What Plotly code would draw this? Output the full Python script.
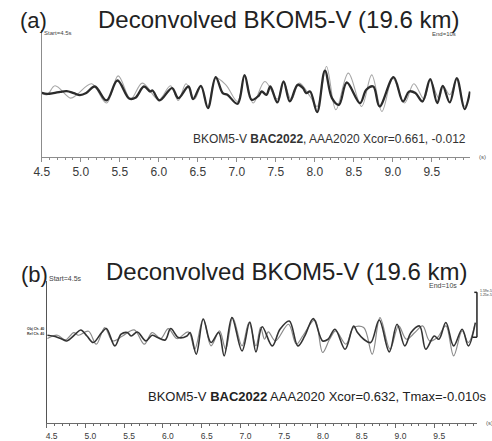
import plotly.graph_objects as go

W, H = 492, 441

# ---------------- data (panel a) ----------------
a_dark_t = [4.50, 4.57, 4.65, 4.74, 4.82, 4.91, 4.99, 5.07, 5.18, 5.33, 5.47, 5.62, 5.70, 5.81, 5.89, 5.92,
            6.01, 6.17, 6.25, 6.38, 6.44, 6.54, 6.63, 6.73, 6.82, 6.88, 7.01, 7.10, 7.19, 7.28, 7.32, 7.38,
            7.43, 7.52, 7.60, 7.68, 7.78, 7.85, 7.89, 7.94, 8.03, 8.13, 8.22, 8.31, 8.41, 8.58, 8.66, 8.75,
            8.83, 9.01, 9.13, 9.21, 9.29, 9.38, 9.48, 9.57, 9.64, 9.73, 9.82, 9.92, 9.99]
a_dark_v = [0, -1, -0.3, 1, 1.7, -0.3, -2.3, -0.3, 6.3, -7.7, 12.3, -5.7, -5, 6.3, 1.3, 2.3,
            -7.7, 4.7, -5.3, 6.3, -6.3, 7, -15.3, 15.7, -0.3, -2, -11, 17.7, -7, -3, 1.3, -2,
            6.3, -9.7, 11.3, -8.7, 8, 4.7, -0.3, 1.3, -19.3, 22.3, -5.3, -12, 10.3, -10.3, 3, 6.3,
            -13.7, 15.7, -8.7, 1.3, -0.3, -8.7, 13.7, -10.3, 7, -9.7, 14.7, -16.3, 1.3]

a_gray_t = [4.50, 4.57, 4.67, 4.87, 4.95, 5.14, 5.33, 5.48, 5.64, 5.79, 6.00, 6.15, 6.25, 6.35, 6.46, 6.54,
            6.63, 6.73, 6.86, 7.01, 7.10, 7.21, 7.36, 7.52, 7.60, 7.70, 7.80, 7.94, 8.03, 8.15, 8.27, 8.43,
            8.60, 8.73, 8.86, 9.00, 9.15, 9.27, 9.40, 9.48, 9.59, 9.65, 9.73, 9.82, 9.92, 9.99]
a_gray_v = [-0.3, -2, 7, -5.3, -2, 9, -10.3, 17, -6.3, 9.7, -7, 7, -7.7, 9, -6.3, 6.3,
            -13.7, 14.7, 8, -8.7, 16.3, -10.3, 11.3, -6.3, 10.3, -7, 9.7, -3.7, -13.7, 26.3, -17, 19.7,
            -13.7, 18, -18.7, 14.7, -10.3, 9, -6.3, 12.3, -5.3, 6.3, -2, 13, -13.7, -0.3]

# ---------------- data (panel b) ----------------
b_dark_t = [4.51, 4.61, 4.70, 4.76, 4.87, 4.94, 5.02, 5.10, 5.21, 5.27, 5.38, 5.46, 5.54, 5.59, 5.67, 5.78,
            5.86, 5.93, 6.03, 6.10, 6.20, 6.31, 6.35, 6.43, 6.52, 6.62, 6.72, 6.79, 6.89, 7.02, 7.12, 7.20,
            7.28, 7.41, 7.51, 7.63, 7.74, 7.83, 7.94, 8.06, 8.13, 8.22, 8.35, 8.46, 8.51, 8.59, 8.68, 8.79,
            8.92, 9.02, 9.12, 9.20, 9.31, 9.39, 9.50, 9.56, 9.65, 9.75, 9.86, 9.94, 10.03]
b_dark_v = [-1, -2.3, -5, -6.7, 0, 4.3, -1.7, -8.3, 1.7, 5.7, -11.7, 0, 1.7, -1.7, 2.3, -6.7,
            -1, -3.3, -5.7, 5.7, -3.3, -1.7, 1.7, -20, 15, -8.3, 1.7, -21.7, 16.7, -16.7, 12.3, -17.7,
            7.5, -11.7, 5, 13.3, -11.7, -1.7, 15.7, -6.7, -5, 5, -15, 8.3, 1.7, -5, -8.3, 14.3,
            -17.7, 10, -11.7, 1.7, 8.3, -15, -1.7, -5, 11.7, -11.7, 5, -11.7, 11.7]

b_gray_t = [4.51, 4.64, 4.74, 4.85, 4.91, 5.04, 5.14, 5.25, 5.35, 5.48, 5.63, 5.76, 5.86, 5.97, 6.07, 6.18,
            6.33, 6.41, 6.52, 6.62, 6.73, 6.81, 6.90, 7.02, 7.11, 7.20, 7.26, 7.31, 7.36, 7.45, 7.62, 7.72,
            7.81, 7.96, 8.06, 8.15, 8.23, 8.36, 8.46, 8.59, 8.70, 8.80, 8.93, 9.04, 9.14, 9.25, 9.35, 9.44,
            9.54, 9.65, 9.75, 9.86, 9.94, 10.02]
b_gray_v = [-4.3, -1, -5.7, 1.7, -1, 3, -10, 6.7, -6.7, -1.7, 4.3, -10, 1.7, -4.3, 5.7, -4.3,
            2.3, -15, 15.7, -11.7, 3.3, -15, 16.7, -11.7, 11.7, -11.7, 7, -5, 2.3, -6.7, 10, -10,
            -1, 14.3, -18.3, -5, 3.3, -10, 6.7, 6.7, -20, 16.7, -15, 8.3, -5, 1.7, 8.3, -6.7,
            -3.3, 8.3, -21.7, 3.3, -8.3, 8.3]

tick_vals = [4.5, 5.0, 5.5, 6.0, 6.5, 7.0, 7.5, 8.0, 8.5, 9.0, 9.5]
tick_text = ["4.5", "5.0", "5.5", "6.0", "6.5", "7.0", "7.5", "8.0", "8.5", "9.0", "9.5"]

title_text = "Deconvolved BKOM5-V (19.6 km)"
note_a = "BKOM5-V <b>BAC2022</b>, AAA2020 Xcor=0.661, -0.012"
note_b = "BKOM5-V <b>BAC2022</b> AAA2020 Xcor=0.632, Tmax=-0.010s"

FONT = "Liberation Sans, Arial, sans-serif"


def fx(x):
    return x / W


def fy(y):
    return 1 - y / H


fig = go.Figure()

# panel a traces
fig.add_trace(go.Scatter(x=a_gray_t, y=a_gray_v, mode="lines", xaxis="x", yaxis="y",
                         line=dict(color="#a6a6a6", width=1.1, shape="spline", smoothing=1.0),
                         hoverinfo="skip", showlegend=False))
fig.add_trace(go.Scatter(x=a_dark_t, y=a_dark_v, mode="lines", xaxis="x", yaxis="y",
                         line=dict(color="#2b2b2b", width=2.3, shape="spline", smoothing=1.0),
                         hoverinfo="skip", showlegend=False))
# panel b traces
fig.add_trace(go.Scatter(x=b_gray_t, y=b_gray_v, mode="lines", xaxis="x2", yaxis="y2",
                         line=dict(color="#8a8a8a", width=1.2, shape="spline", smoothing=1.0),
                         hoverinfo="skip", showlegend=False))
fig.add_trace(go.Scatter(x=b_dark_t, y=b_dark_v, mode="lines", xaxis="x2", yaxis="y2",
                         line=dict(color="#333333", width=1.6, shape="spline", smoothing=1.0),
                         hoverinfo="skip", showlegend=False))

# axes geometry (pixels)
A_X0, A_X1, A_Y0, A_Y1 = 34.3, 470, 30, 157
B_X0, B_X1, B_Y0, B_Y1 = 39.3, 477, 282, 424

fig.update_layout(
    width=W, height=H, margin=dict(l=0, r=0, t=0, b=0),
    paper_bgcolor="white", plot_bgcolor="white",
    font=dict(family=FONT, color="#333333"),
    xaxis=dict(domain=[fx(A_X0), fx(A_X1)], range=[4.5, 4.5 + (A_X1 - A_X0) / 79.3],
               anchor="y", showline=True, linecolor="#8c8c8c", linewidth=1,
               showgrid=False, zeroline=False,
               tickmode="array", tickvals=tick_vals, ticktext=tick_text,
               ticks="outside", ticklen=4, tickcolor="#8c8c8c", tickwidth=1,
               tickfont=dict(size=12, color="#3a3a3a", family=FONT),
               minor=dict(dtick=0.1, tick0=4.5, ticks="outside", ticklen=2.5,
                          tickcolor="#8c8c8c", tickwidth=1, showgrid=False)),
    yaxis=dict(domain=[fy(A_Y1), fy(A_Y0)], range=[-(A_Y1 - 93), 93 - A_Y0],
               anchor="x", showline=True, linecolor="#8c8c8c", linewidth=1,
               showgrid=False, zeroline=False, showticklabels=False, ticks=""),
    xaxis2=dict(domain=[fx(B_X0), fx(B_X1)], range=[4.5, 4.5 + (B_X1 - B_X0) / 78.8],
                anchor="y2", showline=True, linecolor="#6a6a6a", linewidth=1,
                showgrid=False, zeroline=False,
                tickmode="array", tickvals=tick_vals, ticktext=tick_text,
                ticks="outside", ticklen=4, tickcolor="#6a6a6a", tickwidth=1,
                ticklabelshift=5, ticklabelstandoff=1,
                tickfont=dict(size=8.5, color="#3a3a3a", family=FONT),
                minor=dict(dtick=0.1, tick0=4.5, ticks="outside", ticklen=2,
                           tickcolor="#6a6a6a", tickwidth=1, showgrid=False)),
    yaxis2=dict(domain=[fy(B_Y1), fy(B_Y0)], range=[-(B_Y1 - 335), 335 - B_Y0],
                anchor="x2", showline=True, linecolor="#555555", linewidth=1,
                showgrid=False, zeroline=False, showticklabels=False, ticks=""),
)


def note(x, y, text, size, xanchor="center", yanchor="middle", color="#222222"):
    fig.add_annotation(x=fx(x), y=fy(y), xref="paper", yref="paper", text=text,
                       showarrow=False, xanchor=xanchor, yanchor=yanchor,
                       font=dict(size=size, color=color, family=FONT))


# panel a text
note(26, 21, "(a)", 22)
note(275, 20, title_text, 24)
note(35, 33, "Start=4.5s", 6, xanchor="left", color="#444")
note(457, 34, "End=10s", 6, xanchor="right", color="#444")
note(468, 139, note_a, 12, xanchor="right", color="#333")
note(477, 157, "(s)", 6, xanchor="left", color="#555")

# panel b text
note(27, 275, "(b)", 22)
note(283, 272, title_text, 24)
note(40, 279, "Start=4.5s", 7, xanchor="left", color="#444")
note(458, 286, "End=10s", 7, xanchor="right", color="#444")
note(488, 397, note_b, 13, xanchor="right", color="#222")
note(484, 424, "(s)", 6, xanchor="left", color="#555")
note(17, 330, "<b>Obj Ch. 40</b>", 3.5, xanchor="left", color="#333")
note(17, 335, "<b>Ref Ch. 40</b>", 3.5, xanchor="left", color="#333")
note(478, 292, "1.59e-5", 3.5, xanchor="left", color="#333")
note(478, 296, "1.25e-5", 3.5, xanchor="left", color="#333")

# scale bar (panel b)
sb = dict(type="line", xref="paper", yref="paper", line=dict(color="#222222", width=1.5))
fig.add_shape(x0=fx(476.7), x1=fx(476.7), y0=fy(293), y1=fy(338), **sb)
fig.add_shape(x0=fx(474), x1=fx(476.7), y0=fy(293), y1=fy(293), **sb)
fig.add_shape(x0=fx(472), x1=fx(476.7), y0=fy(338), y1=fy(338), **sb)

fig.write_html("out.html", config={"displayModeBar": False},
               post_script="document.body.style.margin='0px';document.body.style.overflow='hidden';")
